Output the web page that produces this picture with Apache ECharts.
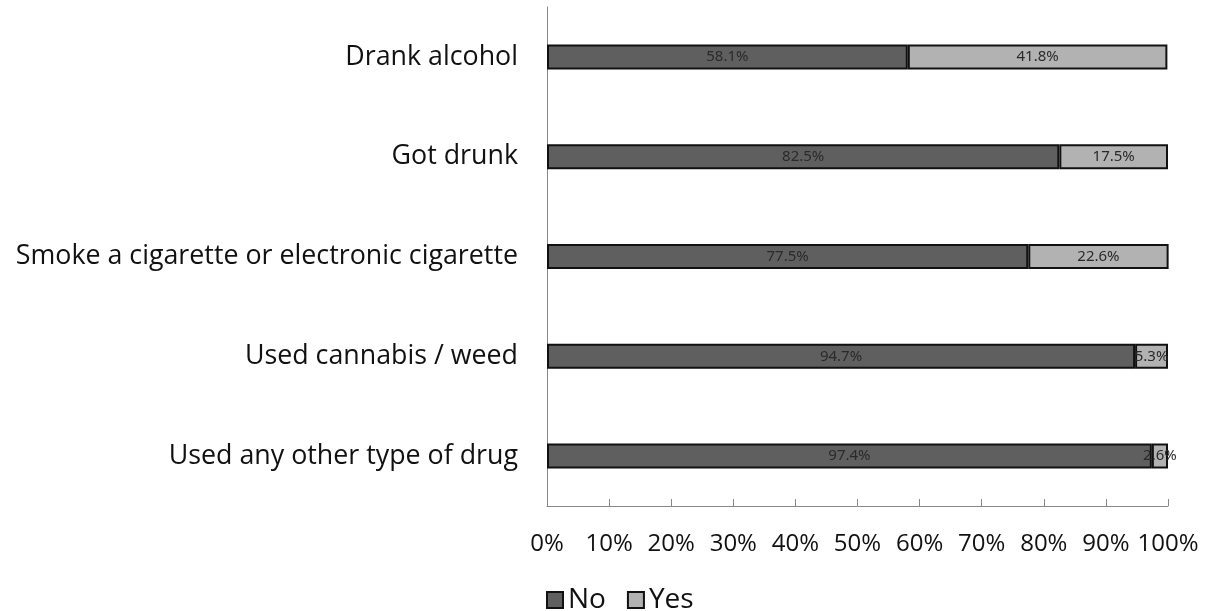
<!DOCTYPE html>
<html><head><meta charset="utf-8">
<script src="https://cdn.jsdelivr.net/npm/echarts@6/dist/echarts.min.js"></script>
<style>html,body{margin:0;padding:0;background:#fff}#c{width:1208px;height:611px}</style>
</head><body><div id="c"></div>
<script>
var categories = ["Drank alcohol", "Got drunk", "Smoke a cigarette or electronic cigarette", "Used cannabis / weed", "Used any other type of drug"];
var noValues = [58.1, 82.5, 77.5, 94.7, 97.4];
var yesValues = [41.8, 17.5, 22.6, 5.3, 2.6];
var xTicks = [0, 10, 20, 30, 40, 50, 60, 70, 80, 90, 100];

var chart = echarts.init(document.getElementById('c'));
var font = '"Open Sans", "Noto Sans", sans-serif';
function lbl() {
  return {show: true, position: 'inside', color: '#2a2a2a', fontSize: 15, fontFamily: '"Noto Sans", sans-serif',
    formatter: function(p){ return p.value.toFixed(1) + '%'; }};
}
chart.setOption({
  animation: false,
  textStyle: {fontFamily: font},
  grid: {left: 547, right: 40, top: 7, bottom: 105, containLabel: false},
  legend: {
    data: ['No', 'Yes'], top: 581, left: 541, itemWidth: 16, itemHeight: 16, itemGap: 21,
    icon: 'rect', textStyle: {fontSize: 28, color: '#111', fontFamily: font}
  },
  xAxis: {
    type: 'value', min: 0, max: 100, interval: 10,
    axisLine: {show: true, lineStyle: {color: '#888', width: 1}},
    axisTick: {show: true, inside: true, length: 7, lineStyle: {color: '#888'}},
    splitLine: {show: false},
    axisLabel: {fontSize: 24, color: '#111', margin: 26, fontFamily: font,
      formatter: function(v){ return v + '%'; }}
  },
  yAxis: {
    type: 'category', data: categories, inverse: true,
    axisLine: {show: true, lineStyle: {color: '#888', width: 1}},
    axisTick: {show: false},
    axisLabel: {fontSize: 26.8, color: '#111', margin: 29, fontFamily: font}
  },
  series: [
    {name: 'No', type: 'bar', stack: 't', data: noValues, barWidth: 25,
      itemStyle: {color: '#5f5f5f', borderColor: '#111', borderWidth: 2}, label: lbl()},
    {name: 'Yes', type: 'bar', stack: 't', data: yesValues, barWidth: 25,
      itemStyle: {color: '#b2b2b2', borderColor: '#111', borderWidth: 2}, label: lbl()}
  ]
});
</script></body></html>
